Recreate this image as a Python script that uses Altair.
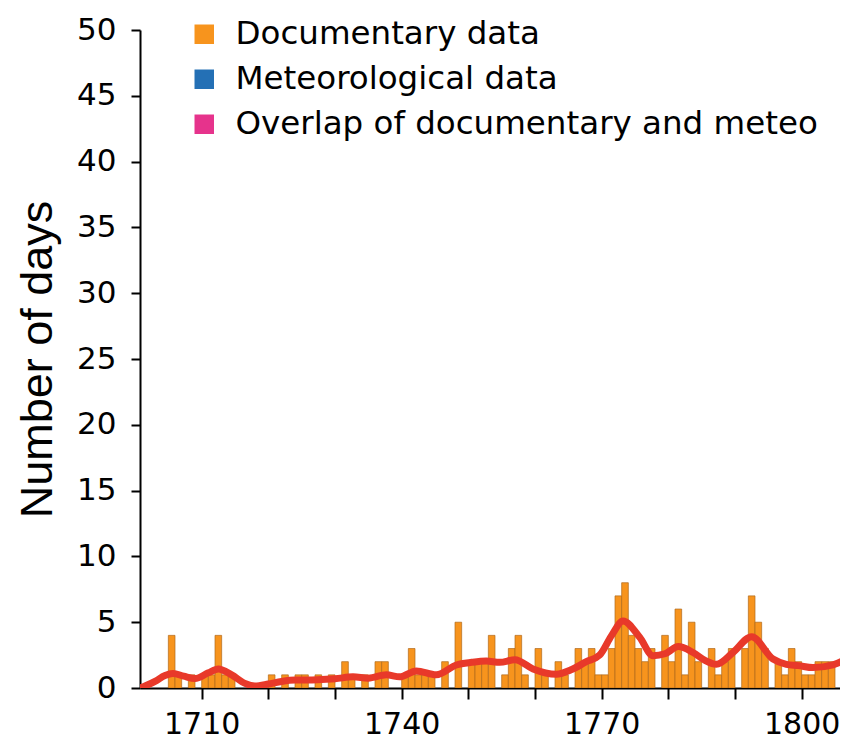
import altair as alt
import pandas as pd

# ---- data ----
years = list(range(1700, 1806))
documentary_days = [
    0, 0, 0, 0, 0, 4, 1, 0, 1, 0,   # 1700-1709
    1, 1, 4, 1, 1, 0, 0, 0, 0, 0,   # 1710-1719
    1, 0, 1, 0, 1, 1, 0, 1, 0, 1,   # 1720-1729
    0, 2, 1, 0, 1, 0, 2, 2, 0, 0,   # 1730-1739
    1, 3, 1, 1, 1, 0, 2, 0, 5, 0,   # 1740-1749
    2, 2, 2, 4, 0, 1, 3, 4, 1, 0,   # 1750-1759
    3, 1, 0, 2, 1, 0, 3, 2, 3, 1,   # 1760-1769
    1, 3, 7, 8, 4, 3, 2, 3, 0, 4,   # 1770-1779
    2, 6, 1, 5, 2, 0, 3, 1, 2, 3,   # 1780-1789
    0, 3, 7, 5, 3, 0, 2, 1, 3, 2,   # 1790-1799
    1, 1, 2, 2, 2, 0,               # 1800-1805
]

smooth_years = [1700.75, 1701.5, 1703, 1704.5, 1705.7, 1707.3, 1709, 1711, 1712.5,
                1714.5, 1716.5, 1718, 1720, 1722, 1724, 1726, 1728, 1730, 1732.7,
                1735, 1737.7, 1739.7, 1742.2, 1745.2, 1748.2, 1750.5, 1752.7,
                1754.7, 1757, 1759.7, 1763.2, 1765.5, 1767.7, 1769.7, 1771.5,
                1773.2, 1775.7, 1777.7, 1779.5, 1781.5, 1783.7, 1785.5, 1787.2,
                1789.7, 1792.5, 1795.7, 1797.7, 1799.5, 1801.7, 1804.7, 1806.7]
smooth_days = [0.0, 0.15, 0.5, 0.95, 1.1, 0.9, 0.72, 1.15, 1.45,
               1.0, 0.35, 0.15, 0.3, 0.5, 0.6, 0.6, 0.65, 0.7, 0.85,
               0.75, 1.0, 0.85, 1.3, 1.0, 1.75, 1.95, 2.05,
               1.95, 2.15, 1.45, 1.05, 1.4, 2.0, 2.5, 4.0,
               5.1, 3.85, 2.45, 2.6, 3.15, 2.7, 2.1, 1.8,
               2.7, 3.9, 2.2, 1.8, 1.7, 1.55, 1.75, 2.2]

legend_labels = ["Documentary data", "Meteorological data",
                 "Overlap of documentary and meteo"]
legend_colors = ["#F7941D", "#2470B5", "#E6338C"]

x_ticks = list(range(1710, 1801, 10))
y_ticks = list(range(0, 51, 5))

bars_df = pd.DataFrame({"year": years, "days": documentary_days,
                        "series": legend_labels[0]})
line_df = pd.DataFrame({"year": smooth_years, "days": smooth_days})

x_scale = alt.Scale(domain=[1700.75, 1805.75], nice=False, zero=False)
y_scale = alt.Scale(domain=[0, 50], nice=False)

x_axis = alt.Axis(values=x_ticks, format="d", title=None,
                  labelExpr="datum.value % 30 == 0 ? datum.label : ''",
                  labelFont="DejaVu Sans", labelFontSize=30, labelColor="black",
                  labelPadding=10, labelFlush=False, labelOverlap=False,
                  tickSize=11, tickWidth=2, tickColor="black",
                  domainColor="black", domainWidth=2, grid=False)

y_axis = alt.Axis(values=y_ticks, title="Number of days",
                  titleFont="Liberation Sans", titleFontSize=45,
                  titleFontWeight="normal", titleColor="black",
                  titleX=-89, titleBaseline="alphabetic",
                  labelFont="DejaVu Sans", labelFontSize=31, labelColor="black",
                  labelPadding=15, labelOverlap=False,
                  tickSize=9, tickWidth=2, tickColor="black",
                  domainColor="black", domainWidth=2, grid=False)

bars = alt.Chart(bars_df).transform_filter("datum.days > 0").transform_calculate(
    year_end="datum.year + 1"
).mark_bar(clip=True, stroke="#B06A1C", strokeWidth=0.7).encode(
    x=alt.X("year:Q", scale=x_scale, axis=x_axis),
    x2="year_end:Q",
    y=alt.Y("days:Q", scale=y_scale, axis=y_axis),
    y2=alt.datum(0),
    color=alt.Color("series:N",
                    scale=alt.Scale(domain=legend_labels, range=legend_colors),
                    legend=alt.Legend(orient="none", legendX=48, legendY=-12,
                                      title=None, symbolType="square",
                                      symbolSize=380, symbolStrokeWidth=0,
                                      labelFont="DejaVu Sans", labelFontSize=32.5,
                                      labelColor="black", labelOffset=15,
                                      rowPadding=12, labelLimit=800, padding=0)),
)

line = alt.Chart(line_df).mark_line(
    clip=True, color="#E8392A", strokeWidth=7, interpolate="monotone"
).encode(
    x=alt.X("year:Q", scale=x_scale),
    y=alt.Y("days:Q", scale=y_scale),
)

chart = alt.layer(bars, line).properties(
    width=700, height=658,
    autosize=alt.AutoSizeParams(type="none"),
    padding={"left": 132, "top": 22, "right": 0, "bottom": 58},
).configure_view(stroke=None)

chart.save("out.html", embed_options={"renderer": "svg", "actions": False})
